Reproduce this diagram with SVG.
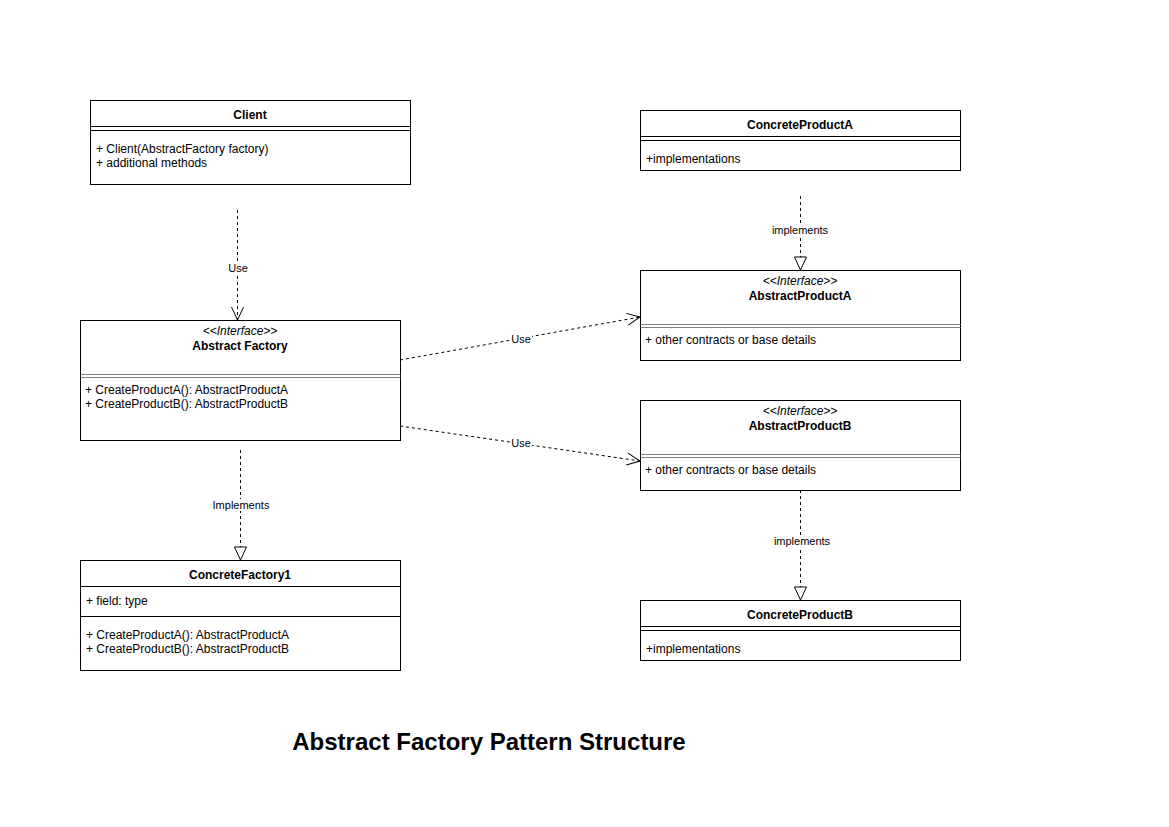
<svg xmlns="http://www.w3.org/2000/svg" width="1169" height="827" viewBox="0 0 1169 827">
<style>
.box{fill:#fff;stroke:#000;stroke-width:1}
.sep{stroke:#000;stroke-width:1;fill:none}
.gsep{stroke:#808080;stroke-width:1;fill:none}
text{font-family:"Liberation Sans",Arial,sans-serif;font-size:12px;fill:#000}
.t{font-weight:bold;text-anchor:middle}
.st{font-style:italic;text-anchor:middle;font-size:12px}
.lbl{font-size:11px;text-anchor:middle}
.edge{stroke:#000;stroke-width:1;stroke-dasharray:3 3;fill:none}
.lblbg{fill:#fff}
.title{font-size:24px;font-weight:bold;text-anchor:middle}
</style>
<defs>
<marker id="open" markerWidth="16" markerHeight="14" refX="14" refY="7" orient="auto" markerUnits="userSpaceOnUse">
<path d="M1,1 L14,7 L1,13" fill="none" stroke="#000" stroke-width="1"/>
</marker>
<marker id="tri" markerWidth="16" markerHeight="16" refX="14" refY="7" orient="auto" markerUnits="userSpaceOnUse">
<path d="M1,1 L14,7 L1,13 Z" fill="#fff" stroke="#000" stroke-width="1"/>
</marker>
</defs>
<rect width="1169" height="827" fill="#fff"/>

<g id="connectors">
<line class="edge" x1="237.5" y1="210" x2="237.5" y2="320" marker-end="url(#open)"/>
<rect class="lblbg" x="226" y="262" width="23" height="12"/>
<text class="lbl" x="238" y="272">Use</text>

<line class="edge" x1="400" y1="360" x2="640" y2="317" marker-end="url(#open)"/>
<rect class="lblbg" x="510" y="333" width="22" height="12"/>
<text class="lbl" x="521" y="343">Use</text>

<line class="edge" x1="400" y1="426" x2="640" y2="461" marker-end="url(#open)"/>
<rect class="lblbg" x="510" y="437" width="22" height="12"/>
<text class="lbl" x="521" y="447">Use</text>

<line class="edge" x1="240.5" y1="450" x2="240.5" y2="560" marker-end="url(#tri)"/>
<rect class="lblbg" x="211" y="499" width="60" height="12"/>
<text class="lbl" x="241" y="509">Implements</text>

<line class="edge" x1="800.5" y1="196" x2="800.5" y2="270" marker-end="url(#tri)"/>
<rect class="lblbg" x="770" y="224" width="60" height="12"/>
<text class="lbl" x="800" y="234">implements</text>

<line class="edge" x1="800.5" y1="490" x2="800.5" y2="600" marker-end="url(#tri)"/>
<rect class="lblbg" x="771" y="535" width="60" height="12"/>
<text class="lbl" x="802" y="545">implements</text>
</g>

<g id="client">
<rect class="box" x="90.5" y="100.5" width="320" height="84"/>
<text class="t" x="250" y="119">Client</text>
<line class="sep" x1="90.5" y1="126.5" x2="410.5" y2="126.5"/>
<line class="sep" x1="90.5" y1="130.5" x2="410.5" y2="130.5"/>
<text x="96" y="153">+ Client(AbstractFactory factory)</text>
<text x="96" y="167">+ additional methods</text>
</g>

<g id="abstract-factory">
<rect class="box" x="80.5" y="320.5" width="320" height="120"/>
<text class="st" x="240" y="335">&lt;&lt;Interface&gt;&gt;</text>
<text class="t" x="240" y="350">Abstract Factory</text>
<line class="gsep" x1="80.5" y1="374.5" x2="400.5" y2="374.5"/>
<line class="gsep" x1="80.5" y1="377.5" x2="400.5" y2="377.5"/>
<text x="85" y="394">+ CreateProductA(): AbstractProductA</text>
<text x="85" y="408">+ CreateProductB(): AbstractProductB</text>
</g>

<g id="concrete-factory1">
<rect class="box" x="80.5" y="560.5" width="320" height="110"/>
<text class="t" x="240" y="579">ConcreteFactory1</text>
<line class="sep" x1="80.5" y1="586.5" x2="400.5" y2="586.5"/>
<text x="86" y="605">+ field: type</text>
<line class="sep" x1="80.5" y1="616.5" x2="400.5" y2="616.5"/>
<text x="86" y="639">+ CreateProductA(): AbstractProductA</text>
<text x="86" y="653">+ CreateProductB(): AbstractProductB</text>
</g>

<g id="concrete-product-a">
<rect class="box" x="640.5" y="110.5" width="320" height="60"/>
<text class="t" x="800" y="129">ConcreteProductA</text>
<line class="sep" x1="640.5" y1="136.5" x2="960.5" y2="136.5"/>
<line class="sep" x1="640.5" y1="140.5" x2="960.5" y2="140.5"/>
<text x="646" y="163">+implementations</text>
</g>

<g id="abstract-product-a">
<rect class="box" x="640.5" y="270.5" width="320" height="90"/>
<text class="st" x="800" y="285">&lt;&lt;Interface&gt;&gt;</text>
<text class="t" x="800" y="300">AbstractProductA</text>
<line class="gsep" x1="640.5" y1="324.5" x2="960.5" y2="324.5"/>
<line class="gsep" x1="640.5" y1="327.5" x2="960.5" y2="327.5"/>
<text x="645" y="344">+ other contracts or base details</text>
</g>

<g id="abstract-product-b">
<rect class="box" x="640.5" y="400.5" width="320" height="90"/>
<text class="st" x="800" y="415">&lt;&lt;Interface&gt;&gt;</text>
<text class="t" x="800" y="430">AbstractProductB</text>
<line class="gsep" x1="640.5" y1="454.5" x2="960.5" y2="454.5"/>
<line class="gsep" x1="640.5" y1="457.5" x2="960.5" y2="457.5"/>
<text x="645" y="474">+ other contracts or base details</text>
</g>

<g id="concrete-product-b">
<rect class="box" x="640.5" y="600.5" width="320" height="60"/>
<text class="t" x="800" y="619">ConcreteProductB</text>
<line class="sep" x1="640.5" y1="626.5" x2="960.5" y2="626.5"/>
<line class="sep" x1="640.5" y1="630.5" x2="960.5" y2="630.5"/>
<text x="646" y="653">+implementations</text>
</g>

<text class="title" x="489" y="750">Abstract Factory Pattern Structure</text>
</svg>
